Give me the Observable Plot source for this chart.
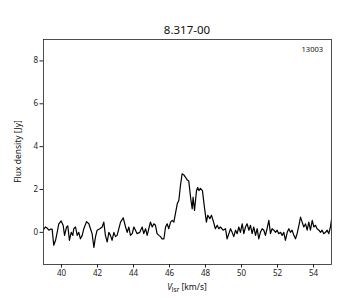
<!DOCTYPE html>
<html>
<head>
<meta charset="utf-8">
<script src="https://cdn.jsdelivr.net/npm/d3@7"></script>
<script src="https://cdn.jsdelivr.net/npm/@observablehq/plot@0.6"></script>
<style>
  html, body { margin: 0; padding: 0; background: #fff; }
  svg { font-family: "Noto Sans", sans-serif; }
</style>
</head>
<body>
<div id="chart"></div>
<script>
const title = "8.317-00";
const tag = "13003";
const xTicks = [40, 42, 44, 46, 48, 50, 52, 54];
const yTicks = [0, 2, 4, 6, 8];

const velocity = [
  39.02, 39.1, 39.2, 39.3, 39.39, 39.48, 39.57, 39.67, 39.76, 39.85, 39.98,
  40.09, 40.17, 40.28, 40.35, 40.44, 40.54, 40.63, 40.68, 40.78, 40.87, 40.96,
  41.05, 41.15, 41.24, 41.39, 41.52, 41.61, 41.7, 41.8, 41.89, 41.98,
  42.13, 42.26, 42.35, 42.44, 42.54, 42.63, 42.72, 42.81, 42.91, 43.0,
  43.09, 43.28, 43.43, 43.56, 43.65, 43.74, 43.83, 43.93, 44.02, 44.11,
  44.2, 44.35, 44.48, 44.57, 44.67, 44.76, 44.85, 44.94, 45.04, 45.13,
  45.22, 45.31, 45.41, 45.5, 45.59, 45.69, 45.78, 45.87, 45.96, 46.06,
  46.15, 46.24, 46.33, 46.43, 46.52, 46.61, 46.7, 46.8, 46.89, 46.98,
  47.07, 47.17, 47.26, 47.31, 47.39, 47.5, 47.57, 47.63, 47.72, 47.83,
  47.94, 48.05, 48.13, 48.24, 48.33, 48.42, 48.55, 48.65, 48.74, 48.83,
  48.98, 49.11, 49.2, 49.3, 49.39, 49.48, 49.57, 49.67, 49.76, 49.85,
  49.94, 50.04, 50.13, 50.22, 50.31, 50.41, 50.5, 50.59, 50.68, 50.78,
  50.87, 50.96, 51.05, 51.15, 51.24, 51.33, 51.42, 51.52, 51.61, 51.7,
  51.8, 51.89, 51.98, 52.07, 52.17, 52.26, 52.35, 52.44, 52.54, 52.63,
  52.72, 52.81, 52.91, 53.0, 53.09, 53.19, 53.28, 53.37, 53.46, 53.56,
  53.65, 53.74, 53.83, 53.93, 54.02, 54.11, 54.2, 54.3, 54.39, 54.48,
  54.57, 54.67, 54.76, 54.85, 54.94, 55.0
];
const flux = [
  0.15, 0.25, 0.2, 0.1, 0.15, 0.15, -0.6, -0.37, 0.0, 0.4, 0.53,
  0.33, -0.14, 0.25, 0.3, -0.37, 0.0, -0.14, 0.17, 0.25, -0.14, 0.0,
  -0.3, -0.14, 0.17, 0.5, 0.4, 0.17, -0.06, -0.7, -0.2, 0.1,
  0.17, 0.25, 0.48, -0.14, -0.45, 0.0, -0.14, -0.37, 0.0, -0.2,
  -0.14, 0.48, 0.68, 0.25, 0.0, 0.25, -0.14, -0.06, 0.25, 0.1,
  -0.06, 0.0, 0.25, -0.06, 0.17, -0.14, 0.17, 0.48, 0.25, 0.4,
  0.33, -0.06, -0.14, -0.2, -0.3, -0.3, 0.25, 0.4, 0.17, 0.48,
  0.56, 0.48, 0.87, 1.33, 1.5, 2.2, 2.73, 2.68, 2.57, 2.45,
  2.4, 1.64, 1.1, 1.64, 1.02, 1.95, 2.1, 1.95, 2.05, 1.95,
  1.18, 0.48, 0.8, 0.64, 0.8, 0.56, 0.17, 0.33, 0.17, 0.25,
  0.1, 0.17, -0.3, -0.06, 0.17, 0.0, -0.2, 0.1, -0.06, 0.25,
  0.0, 0.4, -0.06, 0.25, 0.4, 0.1, 0.33, -0.06, 0.25, -0.14,
  0.17, -0.3, 0.0, 0.17, 0.1, -0.14, 0.17, 0.56, -0.06, 0.17,
  0.1, 0.0, 0.1, -0.06, 0.0, -0.14, 0.0, -0.37, 0.0, 0.17,
  0.0, 0.1, -0.14, -0.3, -0.06, 0.33, 0.71, 0.48, 0.25, 0.4,
  0.1, 0.48, 0.1, 0.56, 0.25, 0.33, 0.17, 0.1, 0.0, 0.1,
  -0.06, 0.0, 0.1, -0.06, 0.25, 0.6
];

const data = velocity.map((v, i) => ({v, f: flux[i]}));

const W = 360, H = 300;
const mL = 43, mR = 29, mT = 39, mB = 36;

const plot = Plot.plot({
  width: W,
  height: H,
  marginLeft: mL,
  marginRight: mR,
  marginTop: mT,
  marginBottom: mB,
  style: {fontFamily: "Noto Sans, sans-serif", fontSize: "8px", color: "#222", background: "#fff"},
  x: {domain: [39, 55], ticks: xTicks, tickSize: 3.5, tickPadding: 2, label: null},
  y: {domain: [-1.5, 9], ticks: yTicks, tickSize: 3.5, tickPadding: 2, label: null},
  marks: [
    Plot.line(data, {x: "v", y: "f", stroke: "#000", strokeWidth: 1.2, clip: true}),
    Plot.frame({stroke: "#222", strokeWidth: 0.8})
  ]
});

const svg = d3.select(plot);
// Title
svg.append("text")
  .attr("x", mL + (W - mL - mR) / 2).attr("y", 34)
  .attr("text-anchor", "middle")
  .attr("font-size", 11.5).attr("fill", "#111")
  .text(title);
// Tag label top right
svg.append("text")
  .attr("x", W - mR - 8).attr("y", 52)
  .attr("text-anchor", "end")
  .attr("font-size", 7.5).attr("fill", "#111")
  .text(tag);
// Y label
svg.append("text")
  .attr("transform", `translate(21, ${mT + (H - mT - mB) / 2}) rotate(-90)`)
  .attr("text-anchor", "middle")
  .attr("font-size", 8.5).attr("fill", "#111")
  .text("Flux density [Jy]");
// X label with subscript
const xl = svg.append("text")
  .attr("x", mL + (W - mL - mR) / 2).attr("y", 290)
  .attr("text-anchor", "middle")
  .attr("font-size", 8.5).attr("fill", "#111");
xl.append("tspan").attr("font-style", "italic").text("V");
xl.append("tspan").attr("font-size", 6.5).attr("dy", 2).text("lsr");
xl.append("tspan").attr("dy", -2).text(" [km/s]");

document.getElementById("chart").appendChild(plot);
</script>
</body>
</html>
